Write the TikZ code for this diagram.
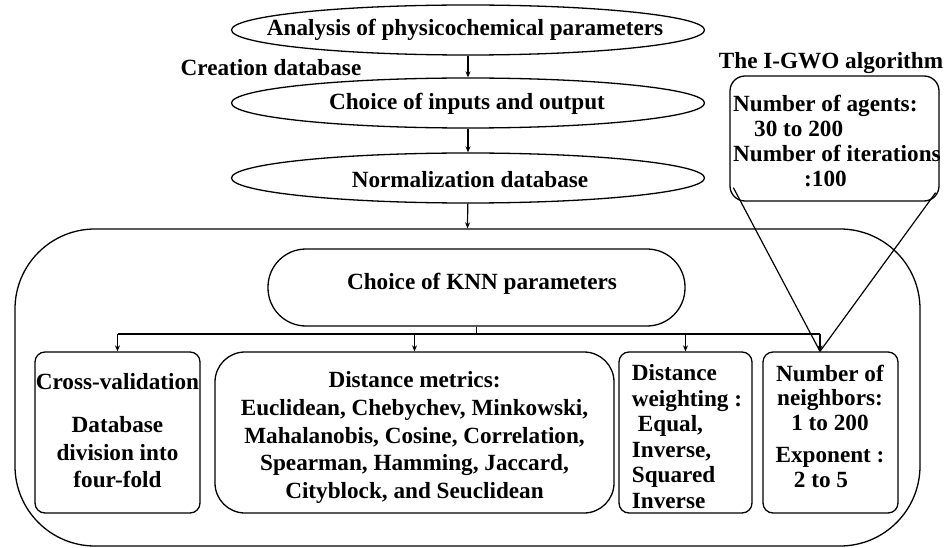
\documentclass[tikz,border=0pt]{standalone}
\usepackage{fontspec}
\setmainfont{Liberation Serif}
\usetikzlibrary{shapes.geometric,arrows.meta}
\begin{document}
\begin{tikzpicture}[x=1pt,y=-1pt,
  every node/.style={font=\fontsize{23.2}{26.5}\selectfont\bfseries, inner sep=0pt},
  lw/.style={line width=1.3pt},
  ell/.style={ellipse, draw, line width=1.3pt, minimum width=473pt, minimum height=50pt},
  rbox/.style={rectangle, draw, line width=1.3pt, rounded corners=10pt, minimum height=161pt},
  arr/.style={line width=1.2pt, -{Stealth[length=6pt,width=5pt]}},
  ln/.style={line width=1.2pt}
]
\useasboundingbox (0,0) rectangle (945,548);
\fill[white] (0,0) rectangle (945,548);

% ellipses
\node[ell] (e1) at (468,30) {};
\node (t1) at (465,30) {Analysis of physicochemical parameters};
\node[ell] (e2) at (468,103) {};
\node (t2) at (467,104) {Choice of inputs and output};
\node[ell] (e3) at (468,178) {};
\node (t3) at (470,180) {Normalization database};
\node (cdb) at (271,68) {Creation database};

% outer box
\node[draw, lw, rounded corners=80pt, minimum width=905pt, minimum height=317pt] (outer) at (467.5,387.5) {};

\draw[arr] (e1) -- (e2);
\draw[arr] (e2) -- (e3);
\draw[arr] (e3) -- (outer.north);

% KNN box
\node[draw, lw, rounded corners=38pt, minimum width=417pt, minimum height=77pt] (knn) at (476.5,287.5) {};
\node (knnt) at (482,284) {Choice of KNN parameters};

% lower boxes
\node[rbox, minimum width=165pt] (cv) at (117.5,432.5) {};
\node[align=center] (cvt) at (117.5,430.5)
  {Cross-validation\\[17pt] Database\\[1pt] division into\\[1pt] four-fold};
\node[rbox, rounded corners=30pt, minimum width=399pt] (dm) at (414.5,432.5) {};
\node[align=center, font=\fontsize{23.2}{27.7}\selectfont\bfseries] (dmt) at (414.5,437.5)
  {Distance metrics:\\ Euclidean, Chebychev, Minkowski,\\ Mahalanobis, Cosine, Correlation,\\ Spearman, Hamming, Jaccard,\\ Cityblock, and Seuclidean};
\node[rbox, minimum width=133pt] (dw) at (685.5,432.5) {};
\node[align=left, font=\fontsize{23.2}{25.6}\selectfont\bfseries] (dwt) at (687,436.5)
  {Distance\\ weighting :\\ \hspace*{6pt}Equal,\\ Inverse,\\ Squared\\ Inverse};
\node[rbox, minimum width=135pt] (nn) at (830.5,432.5) {};
\node[align=center, font=\fontsize{23.2}{24.5}\selectfont\bfseries] (nnt0) at (830,426)
  {Number of\\ neighbors:\\ 1 to 200\\[8pt] Exponent :\\ \mbox{2 to 5\hspace{18pt}}};

% bus
\coordinate (bus) at (0,334);
\coordinate (nnt) at ([xshift=-10.5pt]nn.north);
\draw[ln] (knn.south) -- (knn.south |- bus);
\draw[ln] (cv.north |- bus) -- (nnt |- bus);
\draw[arr] (cv.north |- bus) -- (cv.north);
\draw[arr] (dm.north |- bus) -- (dm.north);
\draw[arr] (dw.north |- bus) -- (dw.north);
\draw[arr] (nnt |- bus) -- (nnt);

% I-GWO
\node (gwotitle) at (831,63) {The I-GWO algorithm};
\node[draw, lw, rounded corners=15pt, minimum width=209pt, minimum height=125pt] (gwo) at (834.5,138.5) {};
\node[anchor=west, align=left, font=\fontsize{23.2}{24.7}\selectfont\bfseries] (gwot) at (733,141)
  {Number of agents:\\ \hspace*{21pt}30 to 200\\ Number of iterations\\ \hspace*{71pt}:100};
\coordinate (gl) at ([shift={(4,-14)}]gwo.south west);
\coordinate (gr) at ([shift={(-4,-9)}]gwo.south east);
\draw[ln] (gl) -- (nnt);
\draw[ln] (gr) -- (nnt);
\end{tikzpicture}
\end{document}
